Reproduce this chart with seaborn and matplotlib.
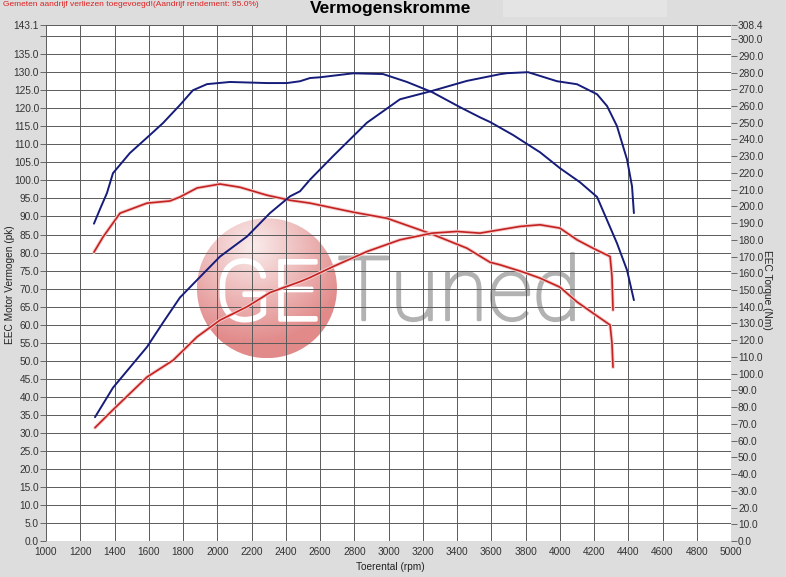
import numpy as np
import pandas as pd
import matplotlib
matplotlib.use("Agg")
import matplotlib.pyplot as plt
import matplotlib.patheffects as pe
from matplotlib.patches import Ellipse
import seaborn as sns

# Blue run: power (pk, left axis) and torque (Nm, right axis)
blue_power_rpm = [1280, 1315, 1356, 1391, 1490, 1607, 1683, 1782, 1858, 1940, 2074, 2290, 2407, 2483,
                  2542, 2600, 2793, 2968, 3108, 3254, 3418, 3534, 3593, 3727, 3885, 4001, 4118, 4218,
                  4276, 4334, 4393, 4433]
blue_power_pk = [88.0, 92.0, 96.5, 102.0, 107.6, 112.6, 115.9, 120.9, 125.0, 126.7, 127.3, 127.0, 127.0,
                 127.5, 128.4, 128.6, 129.7, 129.5, 127.3, 124.5, 120.3, 117.5, 116.2, 112.6, 107.8,
                 103.4, 99.5, 95.4, 89.0, 82.6, 75.1, 66.8]
blue_torque_rpm = [1286, 1391, 1590, 1683, 1782, 1882, 2016, 2174, 2308, 2425, 2483, 2542, 2676, 2874,
                   3067, 3254, 3458, 3651, 3692, 3815, 3984, 4101, 4218, 4276, 4334, 4393, 4422, 4433]
blue_torque_nm = [74.0, 91.6, 116.0, 130.5, 145.5, 156.0, 170.0, 182.0, 196.0, 206.0, 209.0, 216.0, 230.0,
                  250.0, 264.0, 269.0, 275.0, 279.0, 279.6, 280.2, 274.8, 273.0, 267.0, 260.0, 248.0,
                  228.0, 212.0, 196.0]

# Red run
red_power_rpm = [1280, 1333, 1432, 1590, 1724, 1782, 1882, 2016, 2133, 2290, 2425, 2542, 2793, 2991,
                 3254, 3458, 3593, 3651, 3785, 3885, 4001, 4101, 4194, 4294, 4305, 4311]
red_power_pk = [80.1, 84.3, 90.9, 93.7, 94.3, 95.4, 97.9, 99.0, 98.1, 95.9, 94.5, 93.7, 91.2, 89.5,
                85.1, 81.2, 77.3, 76.6, 74.6, 72.9, 70.4, 66.3, 63.2, 59.9, 54.9, 48.2]
red_torque_rpm = [1286, 1391, 1590, 1742, 1882, 2016, 2174, 2308, 2483, 2542, 2676, 2874, 3067, 3254,
                  3400, 3534, 3651, 3768, 3885, 4001, 4101, 4194, 4294, 4305, 4311]
red_torque_nm = [67.7, 78.4, 98.0, 108.0, 122.0, 132.0, 140.0, 148.5, 155.0, 157.5, 164.0, 173.0, 180.0,
                 184.0, 185.0, 184.0, 186.0, 188.0, 189.0, 187.0, 180.0, 175.0, 170.0, 158.0, 138.0]

x_ticks = list(range(1000, 5001, 200))
left_ticks = [v * 5.0 for v in range(29)] + [143.1]
right_ticks = [v * 10.0 for v in range(31)] + [308.4]

BLUE = "#161c7a"
RED = "#c42220"
BG = "#dddddd"

sns.set_style("white")
plt.rcParams['font.family'] = ['Liberation Sans', 'DejaVu Sans']

fig = plt.figure(figsize=(7.86, 5.77), dpi=100, facecolor=BG)
ax = fig.add_axes([46 / 786, 36 / 577, 685 / 786, 516 / 577])
ax2 = ax.twinx()

ax.set_xlim(1000, 5000)
ax.set_ylim(0, 143.1)
ax2.set_ylim(0, 308.4)

# watermark (logo) behind the grid
ell = Ellipse((2290, 70.1), 818, 38.8, transform=ax.transData)
grad_y, grad_x = np.mgrid[0:1:200j, 0:1:200j]
dist = np.sqrt((grad_x - 0.4) ** 2 + (grad_y - 0.2) ** 2)
dist = np.clip(dist / 0.7, 0, 1)
top_col = np.array([250, 236, 236]) / 255
bot_col = np.array([226, 138, 138]) / 255
img = top_col[None, None, :] * (1 - dist[..., None]) + bot_col[None, None, :] * dist[..., None]
im = ax.imshow(img, extent=[2290 - 409, 2290 + 409, 70.1 - 19.4, 70.1 + 19.4], origin='upper',
               aspect='auto', zorder=0.2)
im.set_clip_path(ell)
ax.text(2290, 61.3, "GE", color="white", fontsize=60, family=['Roboto', 'DejaVu Sans'],
        fontweight='light', ha='center', va='baseline', zorder=0.3,
        path_effects=[pe.withStroke(linewidth=2.5, foreground="white")])
ax.text(2700, 61.3, "Tuned", color="#b2b2b2", fontsize=64, family=['Roboto', 'DejaVu Sans'],
        fontweight='light', ha='left', va='baseline', zorder=0.3,
        path_effects=[pe.withStroke(linewidth=1.8, foreground="#b2b2b2")])

# grid
ax.set_axisbelow(True)
ax.set_xticks(x_ticks)
ax.set_yticks(left_ticks)
ax.set_yticklabels(["" if abs(t - 140) < 1e-6 else "%.1f" % t for t in left_ticks])
ax.grid(True, color="#5a5a5a", linewidth=0.7)
ax2.set_yticks(right_ticks)
ax2.set_yticklabels(["%.1f" % t for t in right_ticks])
ax2.grid(False)

for a in (ax, ax2):
    for s in a.spines.values():
        s.set_visible(False)
ax.tick_params(axis='y', which='both', direction='out', length=4, width=0.6, color="#555555",
               labelsize=7.3, labelcolor="#333333", pad=1, left=True)
ax.tick_params(axis='x', direction='out', length=0, labelsize=7.3, labelcolor="#333333", pad=4)
ax2.tick_params(axis='y', direction='out', length=4, width=0.6, color="#555555", labelsize=7.3,
                labelcolor="#333333", pad=1, right=True)

halo = [pe.Stroke(linewidth=2.6, foreground="#f4cccc"), pe.Normal()]

sns.lineplot(x=blue_power_rpm, y=blue_power_pk, ax=ax, color=BLUE, linewidth=1.4, estimator=None)
sns.lineplot(x=red_power_rpm, y=red_power_pk, ax=ax, color=RED, linewidth=1.2, estimator=None,
             path_effects=halo)
sns.lineplot(x=blue_torque_rpm, y=blue_torque_nm, ax=ax2, color=BLUE, linewidth=1.4, estimator=None)
sns.lineplot(x=red_torque_rpm, y=red_torque_nm, ax=ax2, color=RED, linewidth=1.2, estimator=None,
             path_effects=halo)

ax.set_xlabel("")
ax.set_ylabel("")
ax2.set_ylabel("")
ax.set_facecolor("white")

fig.text(390 / 786, 1 - 567 / 577, "Toerental (rpm)", ha='center', va='center', fontsize=7.3, color="#222222")
fig.text(10 / 786, 1 - 285 / 577, "EEC Motor Vermogen (pk)", ha='center', va='center', rotation=90,
         fontsize=7.3, color="#222222")
fig.text(767 / 786, 1 - 290 / 577, "EEC Torque (Nm)", ha='center', va='center', rotation=270,
         fontsize=7.3, color="#222222")

fig.patches.append(plt.Rectangle((503 / 786, 1 - 17 / 577), 164 / 786, 17 / 577, transform=fig.transFigure,
                                 facecolor="#e4e4e4", edgecolor='none', zorder=-1))
fig.text(391 / 786, 1 - 8 / 577, "Vermogenskromme", ha='center', va='center', fontsize=12.5,
         fontweight='bold', color="black")
fig.text(3 / 786, 1 - 4 / 577, "Gemeten aandrijf verliezen toegevoegd!(Aandrijf rendement: 95.0%)",
         ha='left', va='center', fontsize=6, color="#e02020")

fig.savefig("out.png", dpi=100, facecolor=BG)
